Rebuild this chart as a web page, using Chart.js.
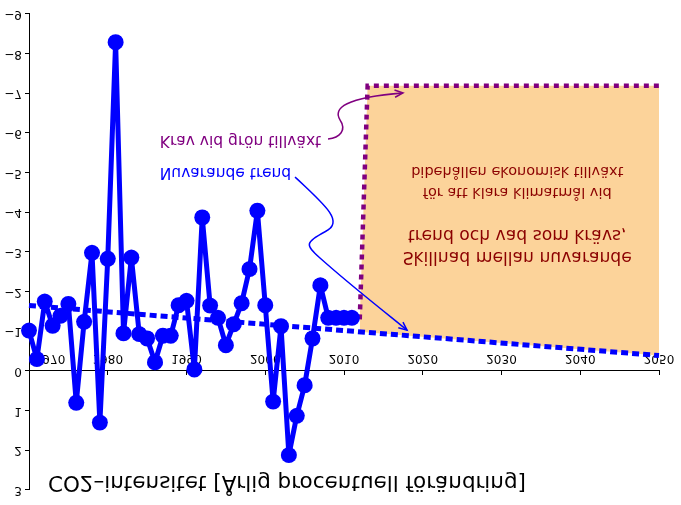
<!DOCTYPE html>
<html>
<head>
<meta charset="utf-8">
<script src="https://cdn.jsdelivr.net/npm/chart.js@4.4.1/dist/chart.umd.min.js"></script>
<style>
    html, body { margin: 0; padding: 0; background: #fff; }
    #wrap { width: 681px; height: 505px; }
    /* bilden är spegelvänd lodrätt, som förlagan */
    #co2Chart { transform: scaleY(-1); }
</style>
</head>
<body>
<div id="wrap"><canvas id="co2Chart" width="681" height="505"></canvas></div>
<script>
// årlig procentuell förändring av CO2-intensitet
const years = [1970, 1971, 1972, 1973, 1974, 1975, 1976, 1977, 1978, 1979,
               1980, 1981, 1982, 1983, 1984, 1985, 1986, 1987, 1988, 1989,
               1990, 1991, 1992, 1993, 1994, 1995, 1996, 1997, 1998, 1999,
               2000, 2001, 2002, 2003, 2004, 2005, 2006, 2007, 2008, 2009,
               2010, 2011];
const co2Change = [-1.02, -0.30, -1.75, -1.14, -1.39, -1.69, 0.80, -1.24, -2.98, 1.30,
                   -2.83, -8.29, -0.95, -2.86, -0.93, -0.82, -0.22, -0.89, -0.89, -1.66,
                   -1.77, -0.04, -3.87, -1.65, -1.34, -0.65, -1.18, -1.71, -2.57, -4.04,
                   -1.66, 0.77, -1.13, 2.12, 1.13, 0.36, -0.82, -2.16, -1.34, -1.34,
                   -1.34, -1.34];

// nuvarande trend
const trendYears = [1970, 2050];
const trendValues = [-1.65, -0.39];

// krav vid grön tillväxt
const requiredYears = [2012, 2013, 2050];
const requiredValues = [-1.30, -7.19, -7.19];

// axlar
const xMin = 1970, xMax = 2050, xStep = 10;
const yMin = -9, yMax = 3, yStep = 1;

const FONT = "'DejaVu Sans', sans-serif";

const toPoints = (xs, ys) => xs.map((x, i) => ({ x: x, y: ys[i] }));

/**
 * Texter och pilar (i dataenheter: år, procent)
 */
const annotationPlugin = {
    id: 'annotations',
    beforeDatasetsDraw: function(chart) {
        // första årtalet sitter lite förskjutet i förlagan
        const ctx = chart.ctx;
        const x = chart.scales.x.getPixelForValue(xMin) + 21;
        const y = chart.scales.y.getPixelForValue(0) + 13;
        ctx.save();
        ctx.font = '12px ' + FONT;
        ctx.fillStyle = '#000';
        ctx.textAlign = 'center';
        ctx.textBaseline = 'middle';
        ctx.fillText(String(xMin), x, y);
        ctx.restore();
    },
    afterDatasetsDraw: function(chart) {
        const ctx = chart.ctx;
        const px = v => chart.scales.x.getPixelForValue(v);
        const py = v => chart.scales.y.getPixelForValue(v);

        ctx.save();

        // axeltitel
        ctx.font = '21.5px ' + FONT;
        ctx.fillStyle = '#000';
        ctx.textAlign = 'left';
        ctx.textBaseline = 'middle';
        ctx.fillText('CO2–intensitet [Årlig procentuell förändring]', px(1972.4), py(2.80));

        // etiketter till pilarna
        ctx.font = '15.5px ' + FONT;
        ctx.fillStyle = '#800080';
        ctx.fillText('Krav vid grön tillväxt', px(1986.6), py(-5.83));
        ctx.fillStyle = '#0000ff';
        ctx.fillText('Nuvarande trend', px(1986.6), py(-5.02));

        // text i det fyllda området
        ctx.fillStyle = '#8b0000';
        ctx.textAlign = 'center';
        ctx.font = '17.2px ' + FONT;
        ctx.fillText('Skillnad mellan nuvarande', px(2032.0), py(-2.88));
        ctx.fillText('trend och vad som krävs,', px(2032.0), py(-3.43));
        ctx.font = '14.5px ' + FONT;
        ctx.fillText('för att klara klimatmål vid', px(2032.0), py(-4.51));
        ctx.fillText('bibehållen ekonomisk tillväxt', px(2032.0), py(-5.04));

        // pilar
        const drawArrow = (start, curves, color) => {
            ctx.strokeStyle = color;
            ctx.lineWidth = 1.5;
            ctx.beginPath();
            ctx.moveTo(px(start[0]), py(start[1]));
            curves.forEach(c => {
                ctx.bezierCurveTo(px(c[0]), py(c[1]), px(c[2]), py(c[3]), px(c[4]), py(c[5]));
            });
            ctx.stroke();

            const last = curves[curves.length - 1];
            const ex = px(last[4]), ey = py(last[5]);
            const ang = Math.atan2(ey - py(last[3]), ex - px(last[2]));
            const len = 9, spread = 0.42;
            ctx.beginPath();
            ctx.moveTo(ex - len * Math.cos(ang - spread), ey - len * Math.sin(ang - spread));
            ctx.lineTo(ex, ey);
            ctx.lineTo(ex - len * Math.cos(ang + spread), ey - len * Math.sin(ang + spread));
            ctx.stroke();
        };

        drawArrow([2003.78, -4.89], [
            [2007.59, -4.19, 2010.13, -3.76, 2007.59, -3.51],
            [2005.05, -3.25, 2005.05, -3.18, 2006.95, -2.85],
            [2010.6, -2.2, 2014.5, -1.6, 2018.0, -1.03]
        ], '#0000ff');

        drawArrow([2007.97, -5.85], [
            [2009.49, -5.88, 2010.38, -6.08, 2009.49, -6.33],
            [2008.6, -6.63, 2010.13, -6.89, 2017.49, -7.01]
        ], '#800080');

        ctx.restore();
    }
};

const ctx = document.getElementById('co2Chart').getContext('2d');

new Chart(ctx, {
    type: 'line',
    data: {
        datasets: [{
            label: 'CO2-intensitet',
            data: toPoints(years, co2Change),
            borderColor: '#0000ff',
            backgroundColor: '#0000ff',
            borderWidth: 5,
            borderJoinStyle: 'round',
            borderCapStyle: 'round',
            pointRadius: 8,
            pointBorderWidth: 0,
            pointBackgroundColor: '#0000ff',
            tension: 0,
            clip: false,
            order: 0
        }, {
            label: 'Nuvarande trend',
            data: toPoints(trendYears, trendValues),
            borderColor: '#0000ff',
            borderWidth: 5,
            borderDash: [7, 4],
            pointRadius: 0,
            fill: false,
            clip: false,
            order: 1
        }, {
            label: 'Krav vid grön tillväxt',
            data: toPoints(requiredYears, requiredValues),
            borderColor: '#800080',
            borderWidth: 4.5,
            borderDash: [5, 5],
            pointRadius: 0,
            fill: { target: 1 },
            backgroundColor: 'rgb(252, 211, 154)',
            clip: false,
            order: 2
        }]
    },
    options: {
        responsive: false,
        animation: false,
        layout: {
            padding: { left: 0, right: 22, top: 15, bottom: 14 }
        },
        plugins: {
            legend: { display: false },
            tooltip: { enabled: false }
        },
        scales: {
            x: {
                type: 'linear',
                position: { y: 0 },
                min: xMin,
                max: xMax,
                afterFit: function(scale) {
                    scale.paddingLeft = 0;
                    scale.paddingRight = 0;
                },
                grid: {
                    drawOnChartArea: false,
                    drawTicks: true,
                    tickLength: -5,
                    color: '#000'
                },
                border: { color: '#000', width: 1 },
                ticks: {
                    stepSize: xStep,
                    padding: 11,
                    color: '#000',
                    font: { family: FONT, size: 12 },
                    maxRotation: 0,
                    callback: v => (v === xMin ? '' : String(v))
                }
            },
            y: {
                type: 'linear',
                position: 'left',
                min: yMin,
                max: yMax,
                afterFit: function(scale) {
                    scale.width = 29;
                },
                grid: {
                    drawOnChartArea: false,
                    drawTicks: true,
                    tickLength: 4,
                    color: '#000'
                },
                border: { color: '#000', width: 1 },
                ticks: {
                    stepSize: yStep,
                    padding: 3,
                    color: '#000',
                    font: { family: FONT, size: 12 },
                    callback: v => (v < 0 ? '\u2212' + Math.abs(v) : String(v))
                }
            }
        }
    },
    plugins: [annotationPlugin]
});
</script>
</body>
</html>
